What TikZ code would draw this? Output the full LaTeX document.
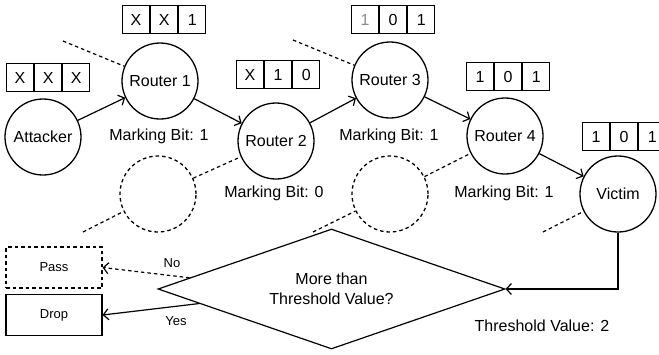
\documentclass[tikz,border=0pt]{standalone}
\usepackage{fontspec}
\setmainfont{Liberation Sans}
\usetikzlibrary{arrows.meta,shapes.geometric,calc}
\tikzset{
  every node/.style={font=\fontsize{16}{19}\selectfont},
  station/.style={circle,draw,line width=1.3pt,minimum size=76pt,inner sep=0pt},
  ghost/.style={circle,draw,line width=1.3pt,dash pattern=on 3.5pt off 3pt,minimum size=76pt,inner sep=0pt},
  cell/.style={draw,line width=1.1pt,minimum width=27pt,minimum height=28pt,inner sep=0pt,anchor=north west},
  stub/.style={line width=1.2pt,dash pattern=on 3.5pt off 3pt},
  flow/.style={line width=1.2pt,-{Straight Barb[length=5pt,width=11pt,line width=1.2pt]}},
  flowdash/.style={flow,dash pattern=on 3.5pt off 3pt},
  lab/.style={inner sep=0pt},
  small/.style={font=\fontsize{13}{15}\selectfont,inner sep=0pt},
  outbox/.style={draw,line width=1.2pt,minimum width=96pt,minimum height=41pt,inner sep=0pt,font=\fontsize{13}{15}\selectfont},
}
\newcommand\bitrow[5]{%
  \node[cell] (#1a) at (#2) {#3};
  \node[cell] (#1b) at (#1a.north east) {#4};
  \node[cell] (#1c) at (#1b.north east) {#5};
}
\begin{document}
\begin{tikzpicture}[x=1pt,y=-1pt]
\useasboundingbox (0,0) rectangle (659,354);
% stations
\node[station] (att) at (43,137) {Attacker};
\node[station] (r1) at (160,81) {Router 1};
\node[station] (r2) at (276,141) {Router 2};
\node[station] (r3) at (390,80) {Router 3};
\node[station] (r4) at (505,136) {Router 4};
\node[station] (vic) at (618,194) {Victim};
\node[ghost] (g1) at (158,194) {};
\node[ghost] (g2) at (390,194) {};
% bit rows
\bitrow{ba}{6,63}{X}{X}{X}
\bitrow{bb}{122,5}{X}{X}{1}
\bitrow{bc}{236,60}{X}{1}{0}
\bitrow{bd}{351,5}{\textcolor[gray]{0.55}{1}}{0}{1}
\bitrow{be}{466,62}{1}{0}{1}
\bitrow{bf}{582,122}{1}{0}{1}
% labels
\node[lab] (m1) at (159,136) {Marking Bit: 1};
\node[lab] (m2) at (274,193) {Marking Bit: 0};
\node[lab] (m3) at (389,136) {Marking Bit: 1};
\node[lab] (m4) at (504,193) {Marking Bit: 1};
\node[lab] (thr) at (542,326) {Threshold Value: 2};
% dashed stubs
\coordinate (s1) at (63,41);
\coordinate (s2) at (293,40);
\coordinate (s3) at (83,232);
\coordinate (s4) at (313,232);
\coordinate (s5) at (543,232);
\draw[stub] (s1) -- (r1);
\draw[stub] (s2) -- (r3);
\draw[stub] (s3) -- (g1);
\draw[stub] (s4) -- (g2);
\draw[stub] (s5) -- (vic);
\draw[stub] (g1) -- (r2);
\draw[stub] (g2) -- (r4);
% flow arrows
\draw[flow] (att) -- (r1);
\draw[flow] (r1) -- (r2);
\draw[flow] (r2) -- (r3);
\draw[flow] (r3) -- (r4);
\draw[flow] (r4) -- (vic);
% decision
\node[diamond,draw,line width=1.2pt,aspect=2.9,minimum width=347pt,minimum height=120pt,inner sep=0pt,align=center] (dec) at (331.5,289) {More than\\[1pt]Threshold Value?};
\draw[flow] (vic.south) |- (dec.east);
\node[outbox,dash pattern=on 3.5pt off 3pt] (pass) at (54,267.5) {Pass};
\node[outbox] (drop) at (54,315) {Drop};
\coordinate (dno) at ($(dec.west)!0.185!(dec.north)$);
\coordinate (dyes) at ($(dec.west)!0.24!(dec.south)$);
\draw[flowdash] (dno) -- (pass.east);
\draw[flow] (dyes) -- (drop.east);
\node[small] (no) at (172,263) {No};
\node[small] (yes) at (176,321) {Yes};
\end{tikzpicture}
\end{document}
